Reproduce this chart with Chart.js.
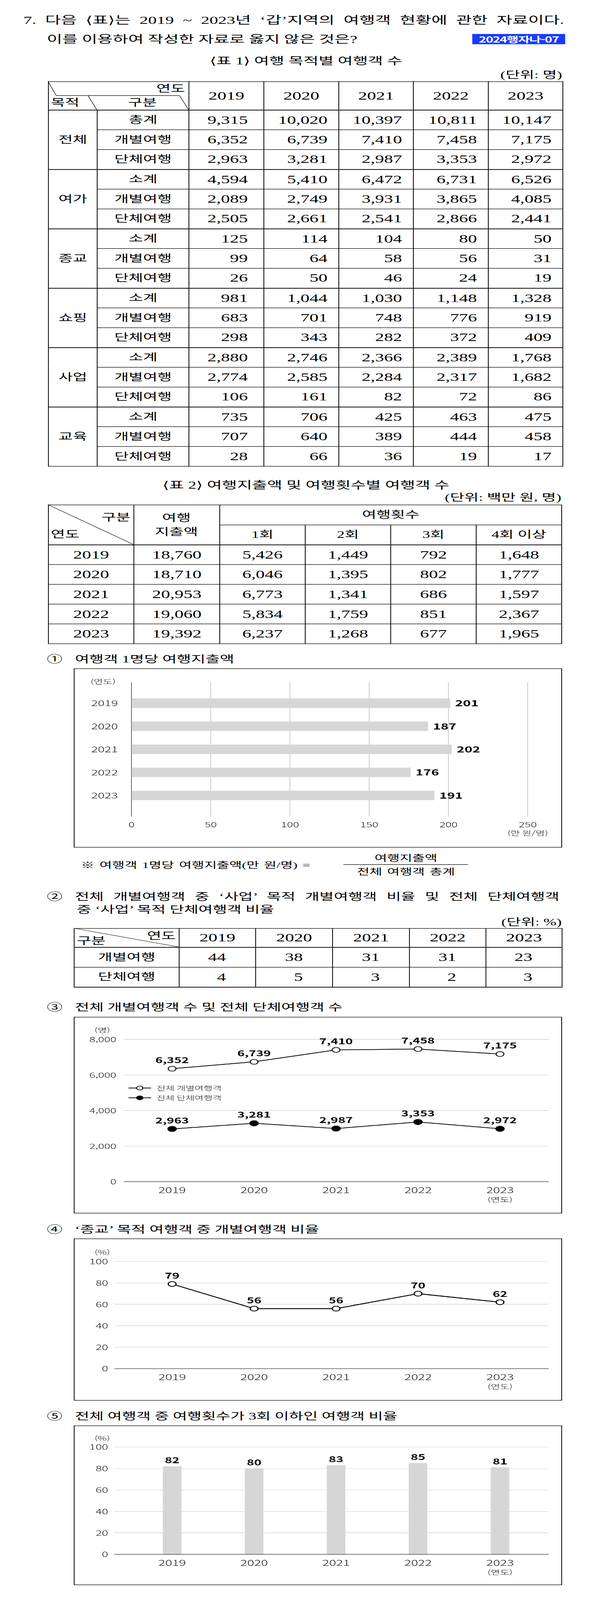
<!DOCTYPE html>
<html lang="ko">
<head>
<meta charset="utf-8">
<script src="https://cdn.jsdelivr.net/npm/chart.js@4.4.0/dist/chart.umd.min.js"></script>
<style>
html,body{margin:0;padding:0;background:#fff;overflow:hidden;}
#page{position:relative;width:1509px;height:6547px;overflow:hidden;background:#fff;transform-origin:0 0;
  font-family:"Liberation Serif","Noto Sans CJK KR",serif;color:#000;}
.t{position:absolute;white-space:nowrap;line-height:1;}
.br{font-family:"DejaVu Serif",serif;}
.box{position:absolute;border:2.5px solid #000;box-sizing:border-box;}
canvas{position:absolute;}
table{position:absolute;border-collapse:collapse;table-layout:fixed;border:2.5px solid #000;}
td{border:2px solid #000;padding:0;text-align:center;vertical-align:middle;font-size:46px;line-height:1;white-space:nowrap;}
td.k{font-size:40px;}
#lines{position:absolute;left:0;top:0;z-index:5;pointer-events:none;}
.badge{position:absolute;left:1210px;top:139px;width:238px;height:42px;background:#1a3cff;color:#fff;
  font-family:"Noto Sans CJK KR",sans-serif;font-weight:700;font-size:33px;line-height:42px;text-align:center;letter-spacing:-1.5px;}
</style>
</head>
<body>
<div id="page"></div>
<script>
// ---------------- DATA ----------------
const years = ['2019', '2020', '2021', '2022', '2023'];

// 표 1: 여행 목적별 여행객 수
const purposes = ['전체', '여가', '종교', '쇼핑', '사업', '교육'];
const subtotalLabels = ['총계', '소계', '소계', '소계', '소계', '소계'];
const subtotal = [
  [9315, 10020, 10397, 10811, 10147],
  [4594, 5410, 6472, 6731, 6526],
  [125, 114, 104, 80, 50],
  [981, 1044, 1030, 1148, 1328],
  [2880, 2746, 2366, 2389, 1768],
  [735, 706, 425, 463, 475]
];
const individual = [
  [6352, 6739, 7410, 7458, 7175],
  [2089, 2749, 3931, 3865, 4085],
  [99, 64, 58, 56, 31],
  [683, 701, 748, 776, 919],
  [2774, 2585, 2284, 2317, 1682],
  [707, 640, 389, 444, 458]
];
const groupTrip = [
  [2963, 3281, 2987, 3353, 2972],
  [2505, 2661, 2541, 2866, 2441],
  [26, 50, 46, 24, 19],
  [298, 343, 282, 372, 409],
  [106, 161, 82, 72, 86],
  [28, 66, 36, 19, 17]
];

// 표 2: 여행지출액 및 여행횟수별 여행객 수
const spending = [18760, 18710, 20953, 19060, 19392];
const trips1 = [5426, 6046, 6773, 5834, 6237];
const trips2 = [1449, 1395, 1341, 1759, 1268];
const trips3 = [792, 802, 686, 851, 677];
const trips4plus = [1648, 1777, 1597, 2367, 1965];
const tripHeaders = ['1회', '2회', '3회', '4회 이상'];

// ② 표
const bizIndivPct = [44, 38, 31, 31, 23];
const bizGroupPct = [4, 5, 3, 2, 3];

// ① 여행객 1명당 여행지출액 (만 원/명)
const perCapitaSpend = [201, 187, 202, 176, 191];
// ④ '종교' 목적 여행객 중 개별여행객 비율 (%)
const religionIndivPct = [79, 56, 56, 70, 62];
// ⑤ 여행횟수 3회 이하 여행객 비율 (%)
const upTo3Pct = [82, 80, 83, 85, 81];

// ---------------- HELPERS ----------------
const page = document.getElementById('page');
const PAGE_H = 6547;
// fit the full page into the real viewport height if the window is shorter
const sy = Math.min(1, (window.innerHeight || PAGE_H) / PAGE_H);
if (sy < 1) {
  page.style.transform = `scale(1, ${sy})`;
  document.body.style.height = window.innerHeight + 'px';
}

const FONT = '"Noto Sans CJK KR", "Noto Sans", sans-serif';
const fmt = n => n.toLocaleString('en-US');

function T(txt, x, y, size, opts = {}) {
  const d = document.createElement('div');
  d.className = 't';
  if (opts.html) d.innerHTML = txt; else d.textContent = txt;
  d.style.left = x + 'px';
  d.style.top = y + 'px';
  d.style.fontSize = size + 'px';
  const a = opts.align || 'left';
  const tx = a === 'center' ? '-50%' : a === 'right' ? '-100%' : '0';
  d.style.transform = `translate(${tx}, -50%)`;
  if (opts.weight) d.style.fontWeight = opts.weight;
  if (opts.family) d.style.fontFamily = opts.family;
  if (opts.width) {
    d.style.width = opts.width + 'px';
    d.style.textAlign = 'justify';
    d.style.textAlignLast = 'justify';
  }
  if (opts.ws) d.style.wordSpacing = opts.ws + 'px';
  page.appendChild(d);
  return d;
}

function buildTable(left, top, colWidths, rows) {
  const t = document.createElement('table');
  t.style.left = left + 'px';
  t.style.top = top + 'px';
  t.style.width = colWidths.reduce((a, b) => a + b, 0) + 'px';
  const cg = document.createElement('colgroup');
  colWidths.forEach(w => { const c = document.createElement('col'); c.style.width = w + 'px'; cg.appendChild(c); });
  t.appendChild(cg);
  rows.forEach(r => {
    const tr = document.createElement('tr');
    tr.style.height = r.h + 'px';
    r.cells.forEach(c => {
      const td = document.createElement('td');
      td.textContent = c.text;
      if (c.cls) td.className = c.cls;
      if (c.colspan) td.colSpan = c.colspan;
      if (c.rowspan) td.rowSpan = c.rowspan;
      if (c.style) Object.assign(td.style, c.style);
      tr.appendChild(td);
    });
    t.appendChild(tr);
  });
  page.appendChild(t);
  return t;
}

function box(x, y, w, h) {
  const d = document.createElement('div');
  d.className = 'box';
  Object.assign(d.style, { left: x + 'px', top: y + 'px', width: w + 'px', height: h + 'px' });
  page.appendChild(d);
}

function mkCanvas(x, y, w, h) {
  const c = document.createElement('canvas');
  c.width = w; c.height = h;
  Object.assign(c.style, { left: x + 'px', top: y + 'px', width: w + 'px', height: h + 'px' });
  page.appendChild(c);
  return c;
}

// ---------------- HEADER TEXT ----------------
T('7. 다음 <span class="br">⟨</span>표<span class="br">⟩</span>는 2019 ~ 2023년 ‘갑’지역의 여행객 현황에 관한 자료이다.', 60, 83, 44, { width: 1385, html: true });
T('이를 이용하여 작성한 자료로 옳지 않은 것은?', 120, 161, 43);
const badge = document.createElement('div');
badge.className = 'badge';
badge.textContent = '2024행자나-07';
page.appendChild(badge);

T('<span class="br">⟨</span>표 1<span class="br">⟩</span> 여행 목적별 여행객 수', 784, 250, 42, { align: 'center', html: true });
T('(단위: 명)', 1440, 306, 40, { align: 'right' });

// ---------------- TABLE 1 ----------------
{
  const rows = [{ h: 116, cells: [{ text: '', colspan: 2 }].concat(years.map(y => ({ text: y }))) }];
  const numStyle = j => ({ textAlign: 'right', paddingRight: (j === 0 ? 40 : 28) + 'px' });
  purposes.forEach((p, g) => {
    const sets = [[subtotalLabels[g], subtotal[g]], ['개별여행', individual[g]], ['단체여행', groupTrip[g]]];
    sets.forEach((s, k) => {
      const cells = [];
      const topB = (k === 0) ? { borderTop: '3px solid #000' } : {};
      if (k === 0) cells.push({ text: p, cls: 'k', rowspan: 3, style: topB });
      cells.push({ text: s[0], cls: 'k', style: topB });
      s[1].forEach((v, j) => cells.push({ text: fmt(v), style: Object.assign(numStyle(j), topB) }));
      rows.push({ h: 81, cells });
    });
  });
  buildTable(123, 333, [125, 235, 192, 192, 191, 192, 191], rows);
  T('연도', 474, 362, 40, { align: 'right' });
  T('목적', 130, 420, 40);
  T('구분', 365, 420, 40, { align: 'center' });
}

// ---------------- TABLE 2 ----------------
T('<span class="br">⟨</span>표 2<span class="br">⟩</span> 여행지출액 및 여행횟수별 여행객 수', 784, 1985, 42, { align: 'center', html: true });
T('(단위: 백만 원, 명)', 1438, 2036, 40, { align: 'right' });
{
  const thick = { borderBottom: '3px solid #000' };
  const rows = [
    { h: 82, cells: [{ text: '', rowspan: 2, style: thick }, { text: '', rowspan: 2, style: thick }, { text: '여행횟수', cls: 'k', colspan: 4, style: { borderBottom: '2.5px solid #000' } }] },
    { h: 81, cells: tripHeaders.map(h => ({ text: h, cls: 'k', style: thick })) }
  ];
  years.forEach((y, i) => {
    rows.push({ h: 81, cells: [y, spending[i], trips1[i], trips2[i], trips3[i], trips4plus[i]].map((v, j) => ({ text: j === 0 ? v : fmt(v) })) });
  });
  buildTable(123, 2065, [219, 220, 219, 219, 219, 219], rows);
  T('구분', 334, 2118, 40, { align: 'right' });
  T('연도', 130, 2187, 40);
  T('여행', 452, 2120, 40, { align: 'center' });
  T('지출액', 452, 2177, 40, { align: 'center' });
}

// ---------------- ① ----------------
T('①', 120, 2698, 40);
T('여행객 1명당 여행지출액', 192, 2698, 40);
box(189, 2735, 1251, 733);

T('※ 여행객 1명당 여행지출액(만 원/명) =', 207, 3540, 35, { ws: 4 });
T('여행지출액', 1040, 3511, 35, { align: 'center' });
T('전체 여행객 총계', 1040, 3568, 35, { align: 'center', ws: 4 });

// ---------------- ② ----------------
T('②', 120, 3670, 40);
T('전체 개별여행객 중 ‘사업’ 목적 개별여행객 비율 및 전체 단체여행객', 192, 3670, 40, { width: 1241 });
T('중 ‘사업’ 목적 단체여행객 비율', 197, 3723, 40);
T('(단위: %)', 1439, 3774, 40, { align: 'right' });
{
  const thick = { borderBottom: '3px solid #000' };
  const pr = { textAlign: 'right', paddingRight: '75px' };
  const rows = [
    { h: 77, cells: [{ text: '', style: thick }].concat(years.map(y => ({ text: y, style: thick }))) },
    { h: 82, cells: [{ text: '개별여행', cls: 'k' }].concat(bizIndivPct.map(v => ({ text: String(v), style: pr }))) },
    { h: 81, cells: [{ text: '단체여행', cls: 'k', style: thick }].concat(bizGroupPct.map(v => ({ text: String(v), style: Object.assign({}, pr, thick) }))) }
  ];
  buildTable(189, 3798, [269, 196, 197, 197, 196, 195], rows);
  T('연도', 450, 3830, 40, { align: 'right' });
  T('구분', 197, 3850, 40);
}

// ---------------- ③ ④ ⑤ titles & boxes ----------------
T('③', 120, 4122, 40);
T('전체 개별여행객 수 및 전체 단체여행객 수', 192, 4122, 40);
box(189, 4161, 1251, 804);
T('④', 120, 5032, 40);
T('‘종교’ 목적 여행객 중 개별여행객 비율', 192, 5032, 40);
box(189, 5068, 1251, 663);
T('⑤', 120, 5796, 40);
T('전체 여행객 중 여행횟수가 3회 이하인 여행객 비율', 192, 5796, 40);
box(189, 5833, 1251, 653);

// ---------------- LINES OVERLAY ----------------
{
  const NS = 'http://www.w3.org/2000/svg';
  const svg = document.createElementNS(NS, 'svg');
  svg.setAttribute('id', 'lines');
  svg.setAttribute('width', 1509);
  svg.setAttribute('height', 6547);
  const segs = [
    [123, 333, 144, 391, 1.5], [144, 391, 460, 391, 2], [460, 391, 483, 449, 1.5], [226, 392, 248, 449, 1.5],
    [123, 2065, 342, 2228, 1.5],
    [189, 3798, 458, 3875, 1.5],
    [880, 3538, 1199, 3538, 2]
  ];
  segs.forEach(s => {
    const l = document.createElementNS(NS, 'line');
    l.setAttribute('x1', s[0]); l.setAttribute('y1', s[1]);
    l.setAttribute('x2', s[2]); l.setAttribute('y2', s[3]);
    l.setAttribute('stroke', '#000'); l.setAttribute('stroke-width', s[4]);
    svg.appendChild(l);
  });
  page.appendChild(svg);
}

// ---------------- CHART PLUGINS ----------------
Chart.defaults.font.family = FONT;
Chart.defaults.font.weight = '300';
Chart.defaults.color = '#111';
Chart.defaults.animation = false;

function valueLabels(cfg) {
  return {
    id: 'valueLabels',
    afterDatasetsDraw(chart) {
      const ctx = chart.ctx;
      ctx.save();
      ctx.font = `700 ${cfg.size}px ${FONT}`;
      ctx.fillStyle = '#000';
      ctx.textBaseline = 'middle';
      chart.data.datasets.forEach((ds, di) => {
        chart.getDatasetMeta(di).data.forEach((el, i) => {
          const raw = ds.data[i];
          if (cfg.mode === 'right') {
            ctx.textAlign = 'left';
            ctx.fillText(fmt(raw.x), el.x + cfg.offset, el.y);
          } else {
            ctx.textAlign = 'center';
            ctx.fillText(fmt(raw.y), el.x, el.y - cfg.offset);
          }
        });
      });
      ctx.restore();
    }
  };
}

function unitText(fn) {
  return {
    id: 'unitText',
    afterDraw(chart) {
      const ctx = chart.ctx;
      ctx.save();
      fn(chart).forEach(it => {
        ctx.font = `300 ${it.size || 26}px ${FONT}`;
        ctx.fillStyle = '#111';
        ctx.textAlign = it.align || 'center';
        ctx.textBaseline = 'middle';
        ctx.fillText(it.text, it.x, it.y);
      });
      ctx.restore();
    }
  };
}

function lineLegend() {
  return {
    id: 'lineLegend',
    afterDraw(chart) {
      const ctx = chart.ctx;
      const a = chart.chartArea;
      const x0 = a.left + 12;
      const rowsY = [a.top + 199, a.top + 239];
      chart.data.datasets.forEach((ds, i) => {
        const y = rowsY[i];
        ctx.save();
        ctx.strokeStyle = ds.borderColor;
        ctx.lineWidth = 3;
        ctx.beginPath(); ctx.moveTo(x0, y); ctx.lineTo(x0 + 58, y); ctx.stroke();
        ctx.beginPath(); ctx.arc(x0 + 29, y, 8, 0, Math.PI * 2);
        ctx.fillStyle = ds.pointBackgroundColor; ctx.fill();
        ctx.lineWidth = 2.5; ctx.stroke();
        ctx.fillStyle = '#111';
        ctx.font = `300 25px ${FONT}`;
        ctx.textAlign = 'left'; ctx.textBaseline = 'middle';
        ctx.fillText(ds.label, x0 + 72, y);
        ctx.restore();
      });
    }
  };
}

const yearTicks = s => { s.ticks = years.map((_, i) => ({ value: i })); };
const yearLabel = v => years[Math.round(v)];
const hGrid = {
  drawTicks: false,
  color: c => (c.tick && c.tick.value === 0) ? '#595959' : '#c4c4c4',
  lineWidth: c => (c.tick && c.tick.value === 0) ? 2.5 : 1.5
};

// ---------------- CHART ① (horizontal bar) ----------------
new Chart(mkCanvas(189, 2735, 1251, 733), {
  type: 'bar',
  data: {
    datasets: [{
      data: years.map((y, i) => ({ x: perCapitaSpend[i], y: i })),
      backgroundColor: '#d6d6d6', borderWidth: 0, barThickness: 38
    }]
  },
  options: {
    responsive: false, animation: false, indexAxis: 'y',
    layout: { padding: { left: 0, right: 88, top: 57, bottom: 0 } },
    plugins: { legend: { display: false }, tooltip: { enabled: false } },
    scales: {
      x: {
        type: 'linear', min: 0, max: 250,
        ticks: { stepSize: 50, padding: 16, font: { size: 29 } },
        grid: { drawTicks: false, color: c => (c.tick && c.tick.value === 0) ? '#333' : '#bdbdbd', lineWidth: 1.5 },
        border: { display: false },
        afterFit: s => { s.height = 127; }
      },
      y: {
        type: 'linear', reverse: true, min: -0.322, max: 4.33,
        afterBuildTicks: yearTicks,
        ticks: { callback: yearLabel, padding: 35, font: { size: 32 } },
        grid: { display: false, drawTicks: false },
        border: { display: false },
        afterFit: s => { s.width = 148; }
      }
    }
  },
  plugins: [
    valueLabels({ mode: 'right', size: 34, offset: 13 }),
    unitText(ch => [
      { text: '(연도)', x: ch.chartArea.left - 73, y: ch.chartArea.top - 3 },
      { text: '(만 원/명)', x: ch.scales.x.getPixelForValue(250), y: ch.chartArea.bottom + 68 }
    ])
  ]
});

// ---------------- CHART ③ (two lines) ----------------
new Chart(mkCanvas(189, 4161, 1251, 804), {
  type: 'line',
  data: {
    datasets: [
      {
        label: '전체 개별여행객',
        data: years.map((y, i) => ({ x: i, y: individual[0][i] })),
        borderColor: '#000', borderWidth: 3, pointRadius: 10, pointBorderWidth: 2.5,
        pointBackgroundColor: '#fff', pointBorderColor: '#000', tension: 0
      },
      {
        label: '전체 단체여행객',
        data: years.map((y, i) => ({ x: i, y: groupTrip[0][i] })),
        borderColor: '#000', borderWidth: 3, pointRadius: 11, pointBorderWidth: 2,
        pointBackgroundColor: '#000', pointBorderColor: '#000', tension: 0
      }
    ]
  },
  options: {
    responsive: false, animation: false,
    layout: { padding: { left: 0, right: 34, top: 92, bottom: 0 } },
    plugins: { legend: { display: false }, tooltip: { enabled: false } },
    scales: {
      x: {
        type: 'linear', min: -0.59, max: 4.595,
        afterBuildTicks: yearTicks,
        ticks: { callback: yearLabel, padding: 15, font: { size: 33 } },
        grid: { display: false, drawTicks: false }, border: { display: false },
        afterFit: s => { s.height = 130; }
      },
      y: {
        min: 0, max: 8000,
        ticks: { stepSize: 2000, padding: 19, font: { size: 29 }, callback: v => fmt(v) },
        grid: hGrid, border: { display: false },
        afterFit: s => { s.width = 128; }
      }
    }
  },
  plugins: [
    valueLabels({ mode: 'above', size: 32, offset: 35 }),
    lineLegend(),
    unitText(ch => [
      { text: '(명)', x: ch.chartArea.left - 55, y: ch.scales.y.getPixelForValue(8000) - 38 },
      { text: '(연도)', x: ch.scales.x.getPixelForValue(4), y: ch.chartArea.bottom + 74 }
    ])
  ]
});

// ---------------- CHART ④ (line) ----------------
new Chart(mkCanvas(189, 5068, 1251, 663), {
  type: 'line',
  data: {
    datasets: [{
      data: years.map((y, i) => ({ x: i, y: religionIndivPct[i] })),
      borderColor: '#000', borderWidth: 3.5, pointRadius: 10, pointBorderWidth: 3,
      pointBackgroundColor: '#fff', pointBorderColor: '#000', tension: 0
    }]
  },
  options: {
    responsive: false, animation: false,
    layout: { padding: { left: 0, right: 34, top: 94, bottom: 0 } },
    plugins: { legend: { display: false }, tooltip: { enabled: false } },
    scales: {
      x: {
        type: 'linear', min: -0.705, max: 4.595,
        afterBuildTicks: yearTicks,
        ticks: { callback: yearLabel, padding: 15, font: { size: 33 } },
        grid: { display: false, drawTicks: false }, border: { display: false },
        afterFit: s => { s.height = 131; }
      },
      y: {
        min: 0, max: 100,
        ticks: { stepSize: 20, padding: 16, font: { size: 30 } },
        grid: hGrid, border: { display: false },
        afterFit: s => { s.width = 104; }
      }
    }
  },
  plugins: [
    valueLabels({ mode: 'above', size: 32, offset: 34 }),
    unitText(ch => [
      { text: '(%)', x: ch.chartArea.left - 31, y: ch.chartArea.top - 38 },
      { text: '(연도)', x: ch.scales.x.getPixelForValue(4), y: ch.chartArea.bottom + 74 }
    ])
  ]
});

// ---------------- CHART ⑤ (vertical bar) ----------------
new Chart(mkCanvas(189, 5833, 1251, 653), {
  type: 'bar',
  data: {
    datasets: [{
      data: years.map((y, i) => ({ x: i, y: upTo3Pct[i] })),
      backgroundColor: '#d6d6d6', borderWidth: 0, barThickness: 47
    }]
  },
  options: {
    responsive: false, animation: false,
    layout: { padding: { left: 0, right: 34, top: 88, bottom: 0 } },
    plugins: { legend: { display: false }, tooltip: { enabled: false } },
    scales: {
      x: {
        type: 'linear', offset: false, min: -0.705, max: 4.595,
        afterBuildTicks: yearTicks,
        ticks: { callback: yearLabel, padding: 15, font: { size: 33 } },
        grid: { display: false, drawTicks: false }, border: { display: false },
        afterFit: s => { s.height = 126; }
      },
      y: {
        min: 0, max: 100,
        ticks: { stepSize: 20, padding: 16, font: { size: 30 } },
        grid: hGrid, border: { display: false },
        afterFit: s => { s.width = 104; }
      }
    }
  },
  plugins: [
    valueLabels({ mode: 'above', size: 32, offset: 25 }),
    unitText(ch => [
      { text: '(%)', x: ch.chartArea.left - 31, y: ch.chartArea.top - 36 },
      { text: '(연도)', x: ch.scales.x.getPixelForValue(4), y: ch.chartArea.bottom + 74 }
    ])
  ]
});
</script>
</body>
</html>
